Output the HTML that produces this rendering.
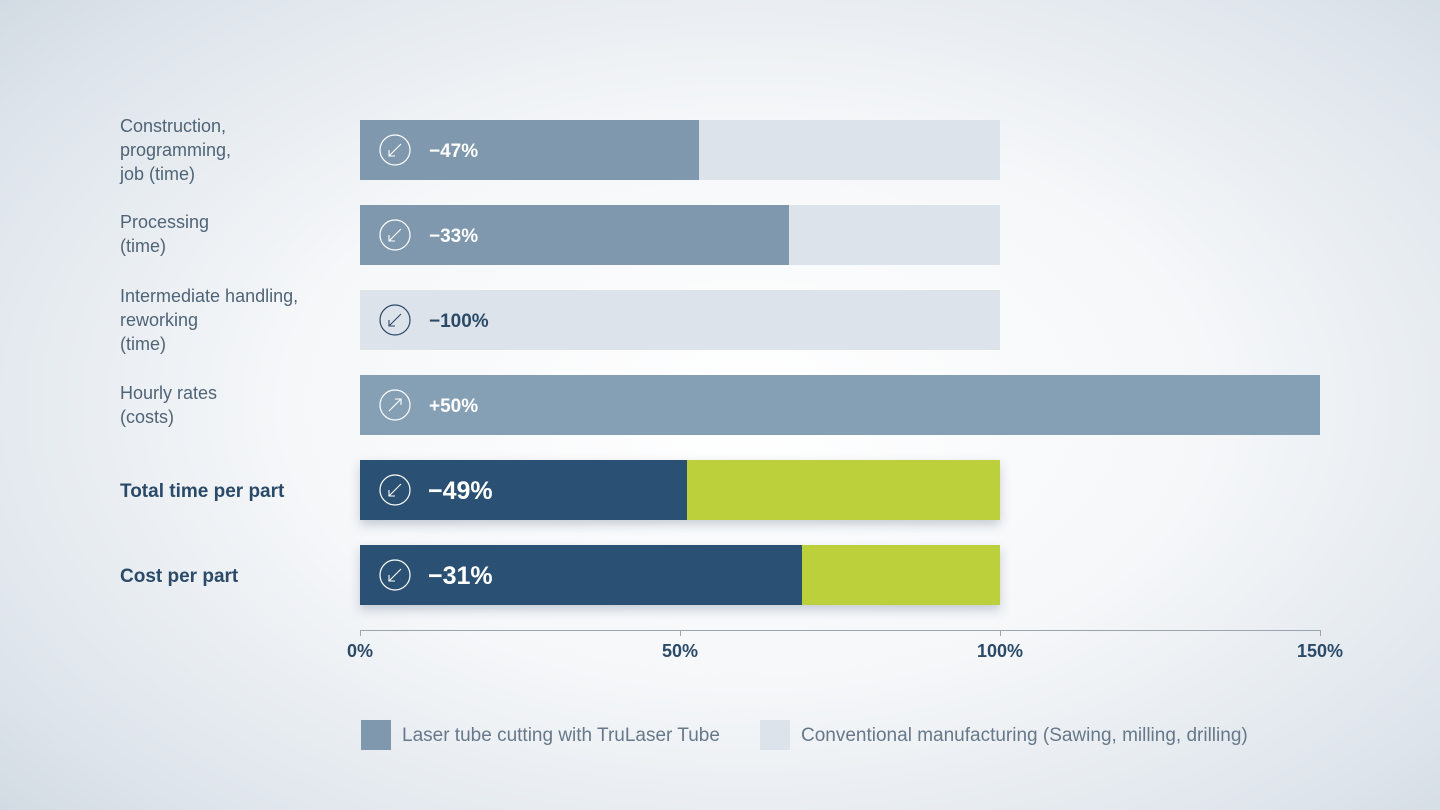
<!DOCTYPE html>
<html><head><meta charset="utf-8"><style>
html,body{margin:0;padding:0;width:1440px;height:810px;overflow:hidden}
body{background:radial-gradient(ellipse 72% 78% at 52% 50%,#ffffff 0%,#f5f7f9 45%,#dce3ea 85%,#cfd8e1 100%);font-family:"Liberation Sans",sans-serif}
</style></head><body>
<svg width="1440" height="810" xmlns="http://www.w3.org/2000/svg" style="position:absolute;left:0;top:0">
<defs>
<filter id="sh" x="-5%" y="-30%" width="110%" height="170%"><feDropShadow dx="0" dy="5" stdDeviation="5" flood-color="#2a4560" flood-opacity="0.25"/></filter>
<g id="dn"><circle r="15" fill="none" stroke="#fff" stroke-width="1.2"/><path d="M6,-6 L-6,6 M-6,0 L-6,6 L0,6" fill="none" stroke="#fff" stroke-width="1.1"/></g>
<g id="up"><circle r="15" fill="none" stroke="#fff" stroke-width="1.2"/><path d="M-6,6 L6,-6 M0,-6 L6,-6 L6,0" fill="none" stroke="#fff" stroke-width="1.1"/></g>
</defs>
<g font-size="18" fill="#4f6477">
<text x="120" y="132">Construction,</text><text x="120" y="156">programming,</text><text x="120" y="180">job (time)</text>
<text x="120" y="228">Processing</text><text x="120" y="252">(time)</text>
<text x="120" y="302">Intermediate handling,</text><text x="120" y="326">reworking</text><text x="120" y="350">(time)</text>
<text x="120" y="399">Hourly rates</text><text x="120" y="423">(costs)</text>
</g>
<g font-size="19" font-weight="bold" fill="#2a4a68">
<text x="120" y="497">Total time per part</text>
<text x="120" y="582">Cost per part</text>
</g>
<rect x="360" y="120" width="640" height="60" fill="#dde3ea"/><rect x="360" y="120" width="339" height="60" fill="#7f98ad"/>
<rect x="360" y="205" width="640" height="60" fill="#dde3ea"/><rect x="360" y="205" width="429" height="60" fill="#7f98ad"/>
<rect x="360" y="290" width="640" height="60" fill="#dde3ea"/>
<rect x="360" y="375" width="960" height="60" fill="#85a0b5"/>
<g filter="url(#sh)"><rect x="360" y="460" width="640" height="60" fill="#bcd03a"/><rect x="360" y="460" width="327" height="60" fill="#2a5173"/></g>
<g filter="url(#sh)"><rect x="360" y="545" width="640" height="60" fill="#bcd03a"/><rect x="360" y="545" width="442" height="60" fill="#2a5173"/></g>
<use href="#dn" x="395" y="150"/><use href="#dn" x="395" y="235"/>
<g transform="translate(395,320)"><circle r="15" fill="none" stroke="#2a4a68" stroke-width="1.2"/><path d="M6,-6 L-6,6 M-6,0 L-6,6 L0,6" fill="none" stroke="#2a4a68" stroke-width="1.1"/></g>
<use href="#up" x="395" y="405"/><use href="#dn" x="395" y="490"/><use href="#dn" x="395" y="575"/>
<g font-size="19" font-weight="bold" fill="#fff">
<text x="429" y="157">−47%</text><text x="429" y="242">−33%</text>
<text x="429" y="327" fill="#2a4a68">−100%</text><text x="429" y="412">+50%</text>
</g>
<g font-size="25" font-weight="bold" fill="#fff">
<text x="428" y="499">−49%</text><text x="428" y="584">−31%</text>
</g>
<line x1="360" y1="630.5" x2="1320" y2="630.5" stroke="#9aa4ad" stroke-width="1"/>
<g stroke="#9aa4ad"><line x1="360.5" y1="630" x2="360.5" y2="636"/><line x1="680.5" y1="630" x2="680.5" y2="636"/><line x1="1000.5" y1="630" x2="1000.5" y2="636"/><line x1="1320.5" y1="630" x2="1320.5" y2="636"/></g>
<g font-size="18" font-weight="bold" fill="#2a4a68" text-anchor="middle">
<text x="360" y="657">0%</text><text x="680" y="657">50%</text><text x="1000" y="657">100%</text><text x="1320" y="657">150%</text>
</g>
<rect x="361" y="720" width="30" height="30" fill="#7f98ad"/>
<text x="402" y="741" font-size="19" fill="#66788a">Laser tube cutting with TruLaser Tube</text>
<rect x="760" y="720" width="30" height="30" fill="#dde3ea"/>
<text x="801" y="741" font-size="19" fill="#66788a">Conventional manufacturing (Sawing, milling, drilling)</text>
</svg>
</body></html>
